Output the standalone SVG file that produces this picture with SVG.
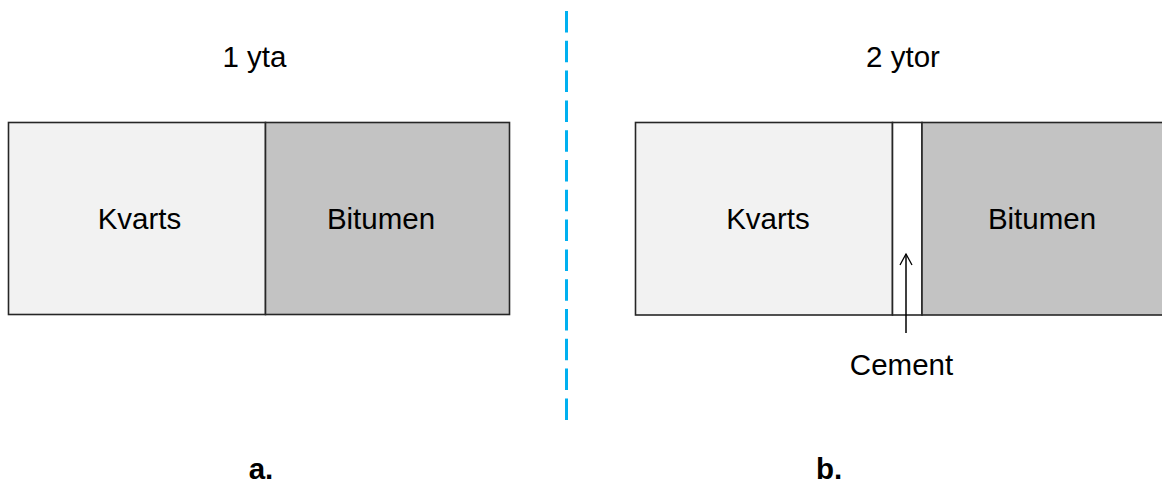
<svg xmlns="http://www.w3.org/2000/svg" width="1162" height="485" viewBox="0 0 1162 485">
<style>
text{font-family:"Liberation Sans",Arial,sans-serif;font-size:29.5px;fill:#000;text-anchor:middle}
.b{font-weight:bold}
.box{stroke:#262626;stroke-width:1.6}
.q{fill:#F2F2F2}
.bit{fill:#C3C3C3}
.cem{fill:#FFFFFF}
</style>
<rect width="1162" height="485" fill="#fff"/>
<text x="254.5" y="67">1 yta</text>
<text x="903" y="67">2 ytor</text>
<g id="a-kvarts"><rect class="box q" x="8.5" y="122.5" width="257" height="192"/><text x="139.5" y="228.5">Kvarts</text></g>
<g id="a-bitumen"><rect class="box bit" x="265.5" y="122.5" width="244" height="192"/><text x="381" y="228.5">Bitumen</text></g>
<g id="b-kvarts"><rect class="box q" x="635.5" y="122.5" width="257" height="192.5"/><text x="768" y="229">Kvarts</text></g>
<g id="b-cement"><rect class="box cem" x="892.5" y="122.5" width="29.5" height="192.5"/></g>
<g id="b-bitumen"><rect class="box bit" x="922" y="122.5" width="244" height="192.5"/><text x="1042" y="229">Bitumen</text></g>
<g id="connectors">
<line x1="566.5" y1="11" x2="566.5" y2="426" stroke="#00B0F0" stroke-width="3" stroke-dasharray="21.5 8.3"/>
<line x1="906" y1="333" x2="906" y2="254" stroke="#000" stroke-width="1.5"/>
<polyline points="900,265 906,254 912,265" fill="none" stroke="#000" stroke-width="1.3"/>
</g>
<text x="901.5" y="375">Cement</text>
<text class="b" x="261" y="479">a.</text>
<text class="b" x="829" y="479">b.</text>
</svg>
